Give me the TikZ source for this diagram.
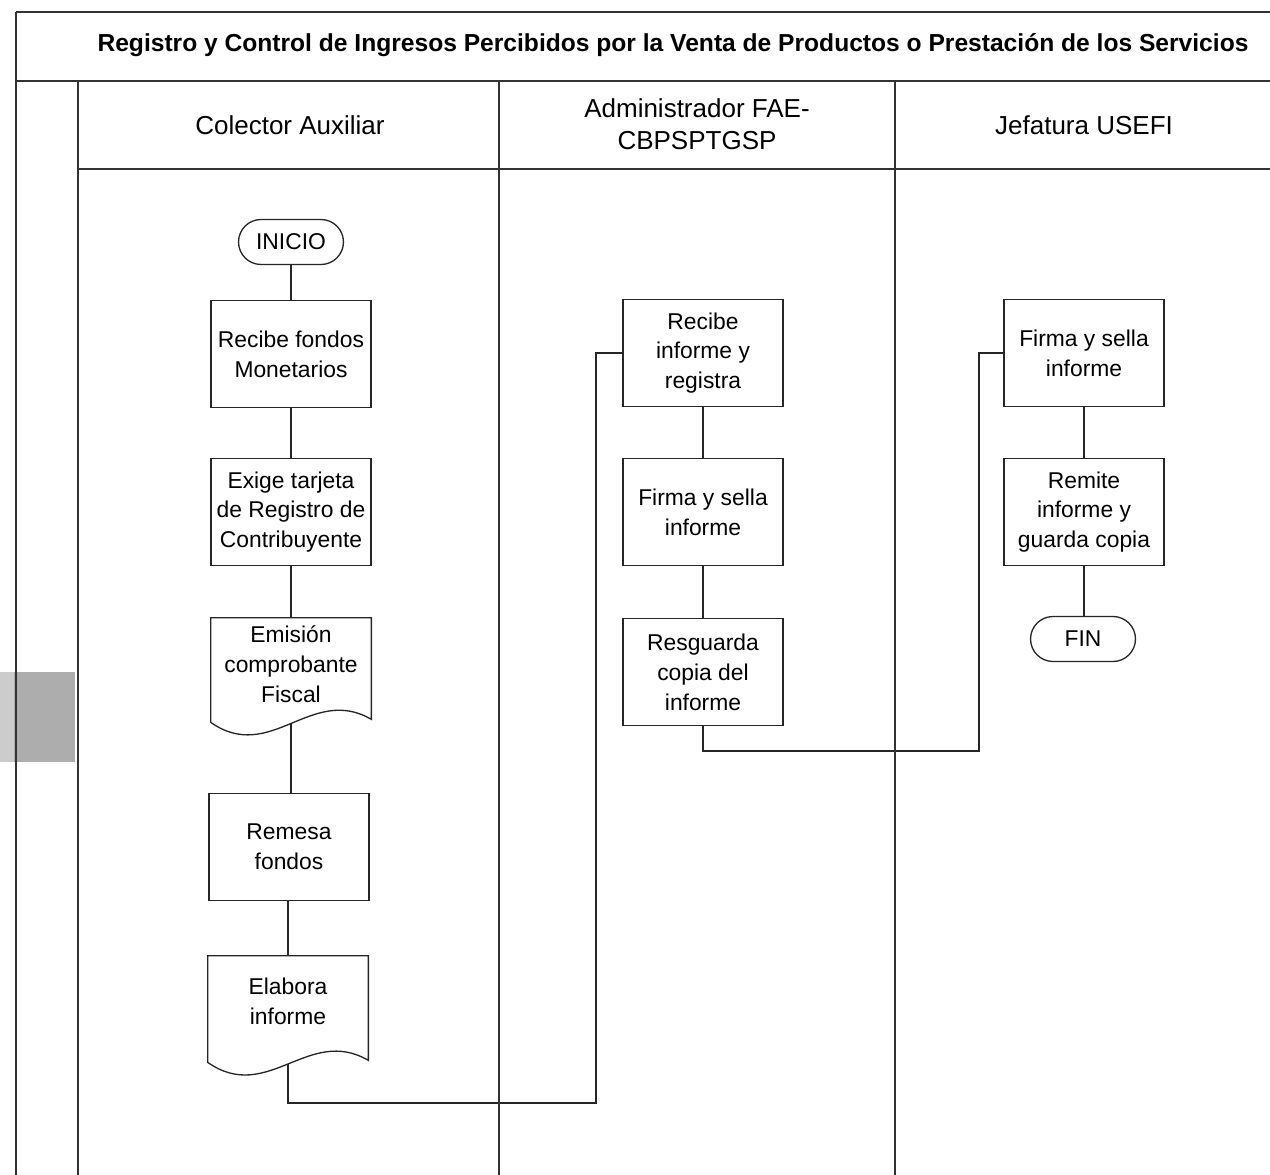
\documentclass[tikz,border=0pt]{standalone}
\usepackage{fontspec}
\setmainfont{Liberation Sans}
\usetikzlibrary{shapes.misc}
\pgfdeclarelayer{links}
\pgfdeclarelayer{shapes}
\pgfsetlayers{links,shapes,main}
\begin{document}
\begin{tikzpicture}[x=0.02cm,y=-0.02cm,
  grid/.style={draw=black!80,line width=0.7pt},
  stepbox/.style={draw=black!85,line width=0.75pt,fill=white,rectangle,
    minimum width=3.2cm,minimum height=2.14cm,align=center,inner sep=2pt,
    font=\fontsize{13}{17}\selectfont},
  docbox/.style={rectangle,minimum width=3.2cm,align=center,inner sep=2pt,
    font=\fontsize{13}{17}\selectfont},
  docline/.style={draw=black!85,line width=0.75pt,fill=white},
  terminal/.style={draw=black!85,line width=0.75pt,fill=white,rounded rectangle,
    minimum width=2.24cm,minimum height=0.9cm,inner sep=2pt,
    font=\fontsize{13}{17}\selectfont},
  lanehead/.style={align=center,font=\fontsize{14.8}{18}\selectfont},
  link/.style={draw=black!85,line width=0.75pt}]

\useasboundingbox (0,0) rectangle (1270,1175);

% smudge at the left margin
\fill[black!20] (0,672) rectangle (14,762);
\fill[black!32] (14,672) rectangle (75,762);

% frame and swimlanes
\draw[grid] (16,12) -- (1270,12);
\draw[grid,line width=1pt] (16,81) -- (1270,81);
\draw[grid] (78,169) -- (1270,169);
\draw[grid] (16,12) -- (16,1175);
\draw[grid] (78,81) -- (78,1175);
\draw[grid] (499,81) -- (499,1175);
\draw[grid] (895,81) -- (895,1175);

% title and lane headings
\node[font=\bfseries\fontsize{14}{17}\selectfont] (title) at (673,45)
  {Registro y Control de Ingresos Percibidos por la Venta de Productos o Prestación de los Servicios};
\node[lanehead] (h1) at (290,125) {Colector Auxiliar};
\node[lanehead] (h2) at (697,124) {Administrador FAE-\\CBPSPTGSP};
\node[lanehead] (h3) at (1084,125) {Jefatura USEFI};

% Colector Auxiliar
\node[terminal] (inicio) at (291,242) {INICIO};
\node[stepbox] (rf) at (291,354) {Recibe fondos\\Monetarios};
\node[stepbox] (ex) at (291,512) {Exige tarjeta\\de Registro de\\Contribuyente};
\node[docbox,minimum height=1.84cm] (em) at (291,664) {Emisión\\comprobante\\Fiscal};
\node[stepbox] (rem) at (289,847) {Remesa\\fondos};
\node[docbox,minimum height=1.8cm] (el) at (288,1001) {Elabora\\informe};

% Administrador
\node[stepbox] (ri) at (703,353) {Recibe\\informe y\\registra};
\node[stepbox] (fs) at (703,512) {Firma y sella\\informe};
\node[stepbox] (rg) at (703,672) {Resguarda\\copia del\\informe};

% Jefatura
\node[stepbox] (fs2) at (1084,353) {Firma y sella\\informe};
\node[stepbox] (rm) at (1084,512) {Remite\\informe y\\guarda copia};
\node[terminal] (fin) at (1083,639) {FIN};

% document outlines with wavy bottoms
\begin{pgfonlayer}{shapes}
\path[docline] (em.north west) -- (em.north east) -- ([yshift=-9*0.02cm]em.south east)
  .. controls +(-60,-35) and +(60,42) .. ([yshift=-12*0.02cm]em.south west) -- cycle;
\path[docline] (el.north west) -- (el.north east) -- ([yshift=-14*0.02cm]el.south east)
  .. controls +(-60,-35) and +(60,42) .. ([yshift=-16*0.02cm]el.south west) -- cycle;
\end{pgfonlayer}

% corners of the cross-lane connectors
\coordinate (c1) at (596,1103);
\coordinate (c2) at (979,751);

% connectors
\begin{pgfonlayer}{links}
\draw[link] (inicio.south) -- (inicio.south |- rf.north);
\draw[link] (rf.south) -- (rf.south |- ex.north);
\draw[link] (ex.south) -- (ex.south |- em.north);
\draw[link] (em.south) -- (em.south |- rem.north);
\draw[link] (el.north |- rem.south) -- (el.north);
\draw[link] (el.south) |- (c1) |- (ri.west);
\draw[link] (ri.south) -- (ri.south |- fs.north);
\draw[link] (fs.south) -- (fs.south |- rg.north);
\draw[link] (rg.south) |- (c2) |- (fs2.west);
\draw[link] (fs2.south) -- (fs2.south |- rm.north);
\draw[link] (rm.south) -- (rm.south |- fin.north);
\end{pgfonlayer}
\end{tikzpicture}
\end{document}
